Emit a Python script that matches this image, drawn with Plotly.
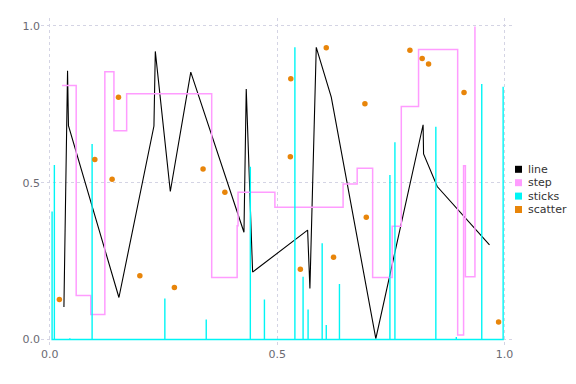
import plotly.graph_objects as go

# ---- data ----
line_x = [0.031, 0.039, 0.041, 0.152, 0.229, 0.232, 0.265, 0.310, 0.427, 0.432, 0.446, 0.567, 0.572, 0.586, 0.619, 0.717, 0.821, 0.822, 0.852, 0.967]
line_y = [0.104, 0.857, 0.682, 0.134, 0.681, 0.919, 0.472, 0.853, 0.342, 0.799, 0.215, 0.349, 0.163, 0.932, 0.773, 0.003, 0.685, 0.592, 0.488, 0.302]

step_x = [0.027, 0.058, 0.090, 0.121, 0.141, 0.169, 0.356, 0.412, 0.414, 0.495, 0.645, 0.676, 0.710, 0.753, 0.773, 0.811, 0.897, 0.910, 0.914, 0.935]
step_y = [0.810, 0.140, 0.080, 0.854, 0.666, 0.784, 0.198, 0.363, 0.470, 0.422, 0.496, 0.546, 0.198, 0.361, 0.743, 0.925, 0.014, 0.554, 0.200, 0.998]

stick_x = [0.005, 0.010, 0.044, 0.093, 0.253, 0.344, 0.441, 0.472, 0.539, 0.557, 0.568, 0.599, 0.608, 0.637, 0.748, 0.759, 0.849, 0.894, 0.950, 0.997]
stick_y = [0.408, 0.557, 0.004, 0.624, 0.131, 0.064, 0.551, 0.128, 0.932, 0.200, 0.096, 0.307, 0.046, 0.177, 0.525, 0.629, 0.679, 0.008, 0.815, 0.806]

scatter_x = [0.021, 0.099, 0.137, 0.151, 0.198, 0.274, 0.337, 0.385, 0.530, 0.529, 0.551, 0.608, 0.624, 0.693, 0.696, 0.792, 0.819, 0.833, 0.911, 0.987]
scatter_y = [0.128, 0.574, 0.511, 0.773, 0.203, 0.166, 0.544, 0.470, 0.832, 0.583, 0.224, 0.931, 0.262, 0.752, 0.390, 0.923, 0.896, 0.879, 0.788, 0.056]

series_names = ["line", "step", "sticks", "scatter"]
series_colors = ["#000000", "#ff9cff", "#00f5f5", "#e8850a"]

tick_vals = [0.0, 0.5, 1.0]
tick_text = ["0.0", "0.5", "1.0"]

# ---- figure ----
fig = go.Figure()

fig.add_trace(go.Scatter(x=line_x, y=line_y, mode="lines", name="line",
                         line=dict(color=series_colors[0], width=1.1), showlegend=False))
fig.add_trace(go.Scatter(x=step_x, y=step_y, mode="lines", name="step",
                         line=dict(color=series_colors[1], width=1.5, shape="hv"), showlegend=False))

sx, sy = [], []
for xv, yv in zip(stick_x, stick_y):
    sx += [xv, xv, xv]
    sy += [0, yv, 0]
fig.add_trace(go.Scatter(x=sx, y=sy, mode="lines", name="sticks",
                         line=dict(color=series_colors[2], width=1.4), showlegend=False))

fig.add_trace(go.Scatter(x=scatter_x, y=scatter_y, mode="markers", name="scatter",
                         marker=dict(color=series_colors[3], size=5.5, line=dict(width=0)),
                         showlegend=False))

# plot area geometry (figure pixels; page has an 8px body offset)
OFF = 8
W, H = 576, 384
L, T = 41 - OFF, 18 - OFF
R = W - (512 - OFF)
B = H - (346 - OFF)
pw, ph = W - L - R, H - T - B

def px2paper_x(p):
    return (p - OFF - L) / pw

def px2paper_y(p):
    return (H - B - (p - OFF)) / ph

shapes = []
annotations = []
for i, (nm, col) in enumerate(zip(series_names, series_colors)):
    cy = 169.3 + 13.4 * i
    shapes.append(dict(type="rect", xref="paper", yref="paper",
                       x0=px2paper_x(515), x1=px2paper_x(522),
                       y0=px2paper_y(cy + 3.5), y1=px2paper_y(cy - 3.5),
                       fillcolor=col, line=dict(width=0)))
    annotations.append(dict(xref="paper", yref="paper", x=px2paper_x(525.5), y=px2paper_y(cy),
                            text=nm, showarrow=False, xanchor="left", yanchor="middle",
                            font=dict(family="DejaVu Sans", size=11, color="#333333")))

grid = dict(showgrid=True, gridcolor="#d4d4e4", gridwidth=1, griddash="dot",
            zeroline=False, showline=False, ticks="",
            tickvals=tick_vals, ticktext=tick_text,
            tickfont=dict(family="DejaVu Sans", size=11, color="#6a6a72"))

fig.update_layout(
    width=W, height=H, autosize=False,
    margin=dict(l=L, r=R, t=T, b=B, pad=0),
    paper_bgcolor="white", plot_bgcolor="white",
    showlegend=False,
    xaxis=dict(range=[-0.0194, 1.0165], **grid),
    yaxis=dict(range=[-0.0207, 1.0255], **grid),
    shapes=shapes, annotations=annotations,
)

fig.write_html("out.html")
